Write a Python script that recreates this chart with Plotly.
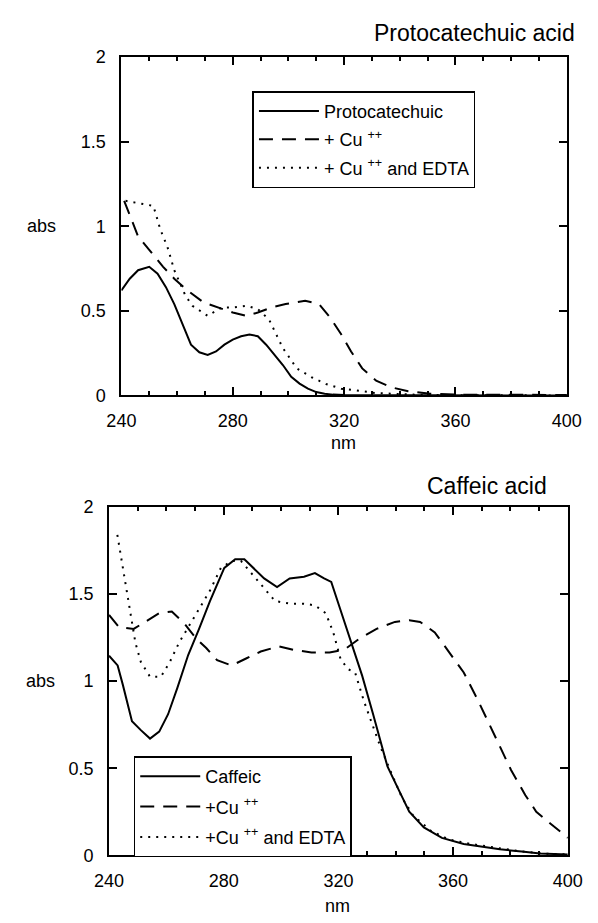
import plotly.graph_objects as go

# ---------------- data: Protocatechuic acid panel ----------------
proto_x = [240, 243, 246, 250, 253, 256, 259, 262, 265, 268, 271, 274, 277, 280, 283, 286, 289,
           292, 295, 298, 301, 304, 307, 310, 313, 316, 320, 330, 340, 360, 380, 400]
proto_y = [0.62, 0.69, 0.74, 0.76, 0.72, 0.64, 0.54, 0.42, 0.30, 0.255, 0.24, 0.26, 0.30, 0.33,
           0.35, 0.36, 0.35, 0.30, 0.24, 0.18, 0.11, 0.07, 0.04, 0.02, 0.01, 0.005, 0.003, 0.002,
           0.0, 0.0, 0.0, 0.0]

proto_cu_x = [241, 246, 250, 255, 259, 263, 269.5, 275, 280, 285, 289, 294, 299, 306, 311, 315,
              319, 322.5, 326.5, 331.5, 337, 343, 351, 360, 380, 400]
proto_cu_y = [1.15, 0.94, 0.86, 0.76, 0.69, 0.63, 0.55, 0.52, 0.49, 0.47, 0.49, 0.52, 0.54, 0.56,
              0.54, 0.46, 0.36, 0.26, 0.16, 0.087, 0.048, 0.025, 0.01, 0.005, 0.003, 0.003]

proto_edta_x = [241.5, 251.5, 254, 256.5, 259, 263, 265.5, 271, 276, 280, 285, 289, 293, 295.5,
                298, 303, 308.5, 313.5, 319, 326.5, 331.5, 345, 360, 400]
proto_edta_y = [1.15, 1.12, 0.98, 0.88, 0.74, 0.59, 0.53, 0.47, 0.52, 0.52, 0.53, 0.51, 0.45, 0.36,
                0.28, 0.16, 0.106, 0.068, 0.04, 0.025, 0.014, 0.005, 0.002, 0.0]

# ---------------- data: Caffeic acid panel ----------------
caf_x = [240, 243, 244.8, 248, 251, 254.3, 257.5, 260.6, 263.8, 267.6, 271.4, 275.2, 280.2, 284,
         287.2, 290.3, 294.1, 298.6, 303, 308, 311.8, 315, 317.5, 320.7, 324.5, 328.3, 332.1,
         334.6, 337.1, 340.9, 344.7, 349.8, 356.1, 363.7, 371.3, 376.3, 383.9, 390.3, 400]
caf_y = [1.146, 1.09, 0.98, 0.77, 0.72, 0.67, 0.71, 0.81, 0.96, 1.15, 1.30, 1.46, 1.65, 1.70,
         1.70, 1.65, 1.59, 1.54, 1.59, 1.60, 1.62, 1.59, 1.57, 1.41, 1.22, 1.03, 0.81, 0.66, 0.51,
         0.38, 0.25, 0.16, 0.10, 0.065, 0.047, 0.034, 0.022, 0.01, 0.005]

caf_cu_x = [240, 243.5, 248.6, 252.4, 257.5, 261.9, 266.3, 270.1, 273.9, 277.7, 282.8, 287.8,
            292.9, 299.2, 304.3, 310.6, 316.9, 322, 327, 333.3, 339.7, 344.7, 348.5, 353.6, 358.6,
            363.7, 368.8, 372.6, 376.3, 380.2, 385.2, 389, 394.1, 400]
caf_cu_y = [1.38, 1.31, 1.30, 1.34, 1.39, 1.40, 1.33, 1.25, 1.19, 1.12, 1.09, 1.13, 1.17, 1.20,
            1.18, 1.165, 1.165, 1.18, 1.24, 1.30, 1.34, 1.35, 1.34, 1.28, 1.165, 1.05, 0.885, 0.755,
            0.62, 0.49, 0.345, 0.25, 0.18, 0.10]

caf_edta_x = [242.9, 244.2, 246.1, 247.3, 249.2, 251.1, 254.3, 258.1, 261.2, 264.4, 267.6, 271.4,
              275.2, 279, 282.8, 286, 289.1, 292.9, 297.9, 303, 308, 311.8, 315.6, 318.2, 320.7,
              323.2, 325.8, 328.9, 332.1, 334.6, 338.4, 342.2, 346, 352.3, 358.6, 366.2, 375.1,
              383.9, 391.5, 400]
caf_edta_y = [1.84, 1.71, 1.52, 1.39, 1.22, 1.11, 1.025, 1.025, 1.11, 1.22, 1.31, 1.41, 1.52, 1.65,
              1.69, 1.69, 1.63, 1.56, 1.46, 1.445, 1.445, 1.435, 1.39, 1.28, 1.13, 1.07, 1.05, 0.885,
              0.74, 0.625, 0.475, 0.33, 0.23, 0.14, 0.09, 0.065, 0.043, 0.022, 0.01, 0.005]

x_ticks = [240, 280, 320, 360, 400]
y_ticks = [0, 0.5, 1, 1.5, 2]

FONT = "Liberation Sans, Arial, sans-serif"
W, H = 598, 923

DASH = "14px,9px"
DOT = "2px,6px"

fig = go.Figure()

# top panel traces
fig.add_trace(go.Scatter(x=proto_x, y=proto_y, mode="lines", name="Protocatechuic",
                         legendgroup="p1",
                         line=dict(color="black", width=2), xaxis="x", yaxis="y", legend="legend"))
fig.add_trace(go.Scatter(x=proto_cu_x, y=proto_cu_y, mode="lines", name="+ Cu <sup>++</sup>",
                         legendgroup="p2",
                         line=dict(color="black", width=2, dash=DASH), xaxis="x", yaxis="y",
                         legend="legend"))
fig.add_trace(go.Scatter(x=proto_edta_x, y=proto_edta_y, mode="lines",
                         name="+ Cu <sup>++</sup> and EDTA", legendgroup="p3",
                         line=dict(color="black", width=2, dash=DOT), xaxis="x", yaxis="y",
                         legend="legend"))

# bottom panel traces
fig.add_trace(go.Scatter(x=caf_x, y=caf_y, mode="lines", name="Caffeic", legendgroup="c1",
                         line=dict(color="black", width=2), xaxis="x2", yaxis="y2",
                         legend="legend2"))
fig.add_trace(go.Scatter(x=caf_cu_x, y=caf_cu_y, mode="lines", name="+Cu <sup>++</sup>",
                         legendgroup="c2",
                         line=dict(color="black", width=2, dash=DASH), xaxis="x2", yaxis="y2",
                         legend="legend2"))
fig.add_trace(go.Scatter(x=caf_edta_x, y=caf_edta_y, mode="lines",
                         name="+Cu <sup>++</sup> and EDTA", legendgroup="c3",
                         line=dict(color="black", width=2, dash=DOT), xaxis="x2", yaxis="y2",
                         legend="legend2"))


def px_x(p):
    return p / W


def px_y(p):
    return 1 - p / H


axis_common = dict(showline=True, linecolor="black", linewidth=2, mirror="ticks",
                   ticks="inside", ticklen=8, tickwidth=2, tickcolor="black",
                   showgrid=False, zeroline=False,
                   tickfont=dict(family=FONT, size=18, color="black"))

fig.update_layout(
    width=W, height=H,
    margin=dict(l=0, r=0, t=0, b=0),
    paper_bgcolor="white", plot_bgcolor="white",
    font=dict(family=FONT, size=18, color="black"),
    xaxis=dict(domain=[px_x(112), px_x(581)], range=[240, 400], tickvals=x_ticks,
               anchor="y", ticklabelstandoff=8,
               minor=dict(ticks="inside", ticklen=4, dtick=10, tickcolor="black"),
               **axis_common),
    yaxis=dict(domain=[px_y(394), px_y(48)], range=[0, 2], tickvals=y_ticks,
               anchor="x", ticklabelstandoff=10, **axis_common),
    xaxis2=dict(domain=[px_x(99), px_x(582)], range=[240, 400], tickvals=x_ticks,
                anchor="y2", ticklabelstandoff=8,
                minor=dict(ticks="inside", ticklen=4, dtick=10, tickcolor="black"),
                **axis_common),
    yaxis2=dict(domain=[px_y(864), px_y(508)], range=[0, 2], tickvals=y_ticks,
                anchor="x2", ticklabelstandoff=10, **axis_common),
    legend=dict(x=px_x(250), y=px_y(83), xanchor="left", yanchor="top",
                bordercolor="black", borderwidth=1.5, bgcolor="white",
                font=dict(family=FONT, size=18, color="black"),
                itemwidth=60, tracegroupgap=2, traceorder="grouped"),
    legend2=dict(x=px_x(125), y=px_y(763), xanchor="left", yanchor="top",
                 bordercolor="black", borderwidth=1.5, bgcolor="white",
                 font=dict(family=FONT, size=18, color="black"),
                 itemwidth=60, tracegroupgap=4, traceorder="grouped"),
    showlegend=True,
)

annots = [
    dict(text="Protocatechuic acid", x=px_x(592), y=px_y(24), xanchor="right", yanchor="middle",
         size=23),
    dict(text="Caffeic acid", x=px_x(562), y=px_y(487), xanchor="right", yanchor="middle",
         size=23),
    dict(text="abs", x=px_x(28), y=px_y(221), xanchor="center", yanchor="middle", size=18),
    dict(text="abs", x=px_x(27), y=px_y(686), xanchor="center", yanchor="middle", size=18),
    dict(text="nm", x=px_x(346), y=px_y(443), xanchor="center", yanchor="middle", size=18),
    dict(text="nm", x=px_x(340), y=px_y(916), xanchor="center", yanchor="middle", size=18),
]
for a in annots:
    size = a.pop("size")
    fig.add_annotation(xref="paper", yref="paper", showarrow=False,
                       font=dict(family=FONT, color="black", size=size), **a)

fig.write_html("out.html")
